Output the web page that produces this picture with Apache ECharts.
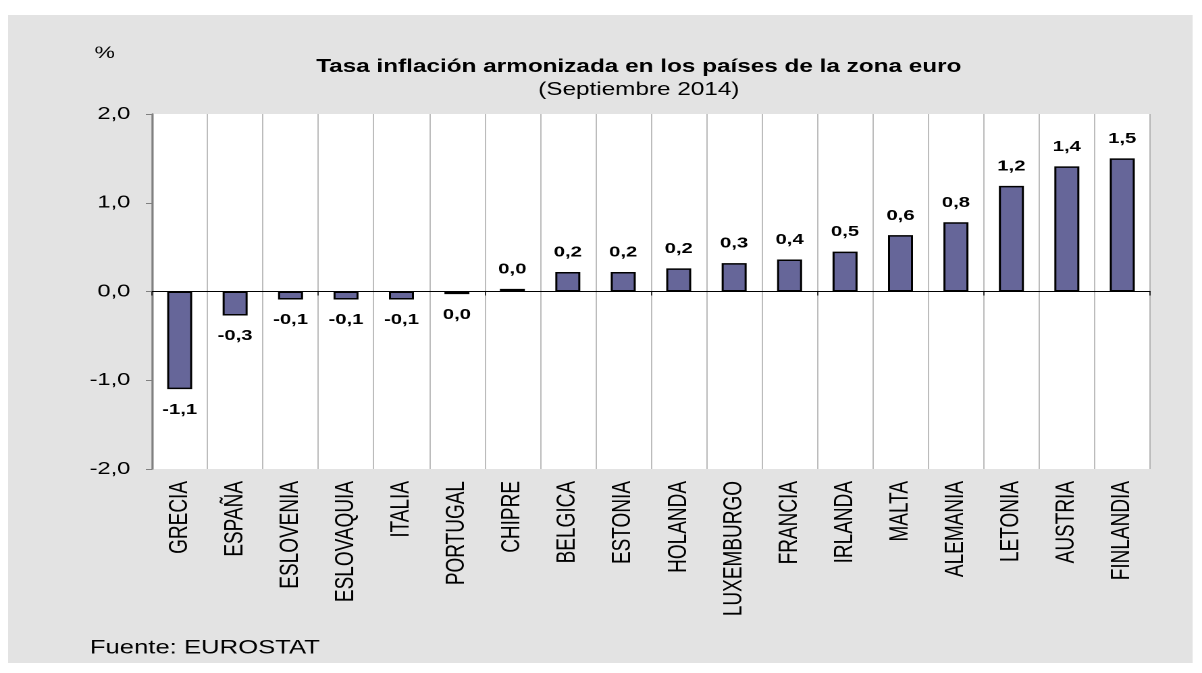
<!DOCTYPE html>
<html>
<head>
<meta charset="utf-8">
<script src="https://cdn.jsdelivr.net/npm/echarts@6/dist/echarts.min.js"></script>
<style>
html,body{margin:0;padding:0;background:#fff;overflow:hidden}
#wrap{width:1202px;height:673px;overflow:hidden}
#c{width:890px;height:673px;transform:scaleX(1.35056);transform-origin:0 0}
</style>
</head>
<body>
<div id="wrap"><div id="c"></div></div>
<script>
const categories = ['GRECIA','ESPAÑA','ESLOVENIA','ESLOVAQUIA','ITALIA','PORTUGAL','CHIPRE','BELGICA','ESTONIA','HOLANDA','LUXEMBURGO','FRANCIA','IRLANDA','MALTA','ALEMANIA','LETONIA','AUSTRIA','FINLANDIA'];
const values = [-1.10,-0.27,-0.09,-0.09,-0.09,-0.03,0.03,0.22,0.22,0.26,0.32,0.36,0.45,0.635,0.78,1.19,1.41,1.50];
const valueLabels = ['-1,1','-0,3','-0,1','-0,1','-0,1','0,0','0,0','0,2','0,2','0,2','0,3','0,4','0,5','0,6','0,8','1,2','1,4','1,5'];
const yTicks = [-2,-1,0,1,2];

const FONT = '"Liberation Sans", Arial, sans-serif';
const chart = echarts.init(document.getElementById('c'), null, {renderer:'canvas', devicePixelRatio:2});
chart.setOption({
  backgroundColor:'#ffffff',
  animation:false,
  graphic:[
    {type:'rect', z:-10, shape:{x:6,y:15,width:877,height:648}, style:{fill:'#e3e3e3'}},
    {type:'text', left:70, top:45, style:{text:'%', font:'17px '+FONT, fill:'#000'}},
    {type:'text', left:66.5, top:639, style:{text:'Fuente: EUROSTAT', font:'19px '+FONT, fill:'#000'}}
  ],
  title:{
    text:'Tasa inflación armonizada en los países de la zona euro',
    subtext:'(Septiembre 2014)',
    left:473, textAlign:'center', top:58, itemGap:5, padding:0,
    textStyle:{fontFamily:FONT, fontSize:18, fontWeight:'bold', color:'#000'},
    subtextStyle:{fontFamily:FONT, fontSize:18, color:'#000'}
  },
  grid:{left:112.5, right:38.5, top:114, bottom:204, show:true, backgroundColor:'#ffffff', borderWidth:0, containLabel:false},
  xAxis:[
    {type:'category', data:categories, position:'bottom',
     axisLine:{show:false, onZero:false}, axisTick:{show:false},
     splitLine:{show:true, interval:0, lineStyle:{color:'#a6a6a6', width:0.75}},
     axisLabel:{interval:0, rotate:90, margin:12, color:'#000', fontFamily:FONT, fontSize:19}},
    {type:'category', data:categories, position:'bottom',
     axisLine:{show:true, onZero:true, lineStyle:{color:'#000', width:1}},
     axisTick:{show:true, inside:false, length:4, lineStyle:{color:'#000', width:0.75}},
     axisLabel:{show:false}, splitLine:{show:false}}
  ],
  yAxis:{type:'value', min:-2, max:2, interval:1,
    axisLine:{show:true, lineStyle:{color:'#808080', width:1.5}},
    axisTick:{show:true, length:4.5, lineStyle:{color:'#808080'}},
    splitLine:{show:false},
    axisLabel:{color:'#000', fontFamily:FONT, fontSize:17.5, margin:16,
      formatter:v => yTicks.includes(v) ? v.toFixed(1).replace('.',',') : ''}},
  series:[{
    type:'bar', xAxisIndex:0, barWidth:18.5,
    data:values.map(v=>({value:v, label:{position: v<0?'bottom':'top', distance: v<0?13:12}})),
    itemStyle:{color:'#666699', borderColor:'#000', borderWidth:1.5},
    label:{show:true, color:'#000', fontFamily:FONT, fontSize:15, fontWeight:'bold',
      formatter:p=>valueLabels[p.dataIndex]}
  }]
});
</script>
</body>
</html>
